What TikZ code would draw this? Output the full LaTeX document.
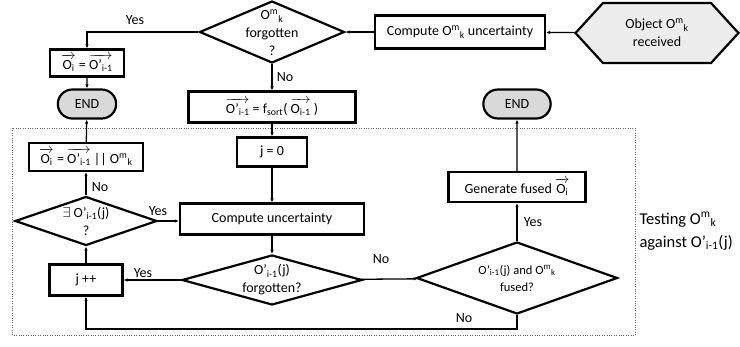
\documentclass[tikz,border=0pt]{standalone}
\usepackage{fontspec}
\setmainfont{Carlito}
\usetikzlibrary{shapes.geometric,shapes.symbols,shapes.misc,arrows.meta}
\newcommand{\Omk}{O\textsuperscript{m}\textsubscript{k}}
\newcommand{\vO}[1]{$\overrightarrow{\mbox{\rule{0pt}{0.8em}#1}}$}

\begin{document}
\begin{tikzpicture}[x=1pt,y=-1pt,
        font=\fontsize{14}{18}\selectfont,
        box/.style={rectangle, draw, line width=2.2pt, fill=white, inner sep=2pt},
        decision/.style={diamond, draw, line width=2.2pt, fill=white, inner sep=0pt},
        endnode/.style={rounded rectangle, draw, line width=2.2pt, fill=gray!30, minimum width=65, minimum height=29},
        dtext/.style={align=center, inner sep=0pt},
        flow/.style={line width=1.3pt, -{Latex[length=4pt,width=3.5pt]}},
        ]
                \useasboundingbox (0,0) rectangle (740,346);
                \draw[dotted, gray!80!black, thin] (12,128) rectangle (635,335);

                \node[signal, signal to=west and east, signal pointer angle=95, draw, line width=2.2pt,
                      fill=gray!15, minimum width=163, minimum height=60, align=center]
                      at (657,33) (obj) {Object \Omk\\received};
                \node[box, minimum width=170, minimum height=33] at (460,32) (unc1) {Compute \Omk{} uncertainty};
                \node[decision, minimum width=145, minimum height=62] at (272,32) (forg1) {};
                \node[dtext] at (272,33) (forg1txt) {\Omk\\forgotten\\?};
                \node[box, minimum width=74, minimum height=27] at (87,63) (assign1) {\vO{O\textsubscript{i}} = \vO{O'\textsubscript{i-1}}};
                \node[endnode] at (87,104) (end1) {END};
                \node[box, minimum width=167, minimum height=31] at (272,107) (sort) {\vO{O'\textsubscript{i-1}} = f\textsubscript{sort}( \vO{O\textsubscript{i-1}} )};
                \node[box, minimum width=70, minimum height=29] at (272,152) (j0) {j = 0};
                \node[box, minimum width=184, minimum height=31] at (272,219) (unc2) {Compute uncertainty};
                \node[decision, minimum width=142, minimum height=49] at (86,221) (exist) {};
                \node[dtext] at (86,221) (existtxt) {$\exists$ O'\textsubscript{i-1}(j)\\?};
                \node[box, minimum width=114, minimum height=28] at (86,157) (concat) {\vO{O\textsubscript{i}} = \vO{O'\textsubscript{i-1}} {|}{|} \Omk};
                \node[decision, minimum width=180, minimum height=50] at (272,280) (forg2) {};
                \node[dtext] at (272,280) (forg2txt) {O'\textsubscript{i-1}(j)\\forgotten?};
                \node[box, minimum width=73, minimum height=31] at (86,280) (jpp) {j ++};
                \node[decision, minimum width=201, minimum height=72] at (517,278) (fused) {};
                \node[dtext, font=\fontsize{12.5}{17}\selectfont] at (517,278) (fusedtxt) {O'\textsubscript{i-1}(j) and \Omk\\fused?};
                \node[box, minimum width=137, minimum height=30] at (517,187) (gen) {Generate fused \vO{O\textsubscript{i}}};
                \node[endnode, minimum width=74] at (517,104) (end2) {END};
                \node[align=left, anchor=west, font=\fontsize{16.5}{23}\selectfont] at (636,231) (testing) {Testing \Omk\\against O'\textsubscript{i-1}(j)};

                \node at (135,20) (yes1) {Yes};
                \node at (285,77) (no1) {No};
                \node at (100,187) (no2) {No};
                \node at (158,211) (yes2) {Yes};
                \node at (143,273) (yes3) {Yes};
                \node at (381,259) (no3) {No};
                \node at (533,222) (yes4) {Yes};
                \node at (464,318) (no4) {No};

                \draw[flow] (obj) -- (unc1);
                \draw[flow] (unc1) -- (forg1);
                \draw[flow] (forg1.west) -| (assign1.north);
                \draw[flow] (assign1) -- (end1);
                \draw[flow] (forg1) -- (sort);
                \draw[flow] (sort) -- (j0);
                \draw[flow] (j0) -- (unc2);
                \draw[flow] (exist.east) -- (exist.east -| unc2.west);
                \draw[flow] (exist) -- (concat);
                \draw[flow] (concat) -- (end1);
                \draw[flow] (unc2) -- (forg2);
                \draw[flow] (forg2) -- (jpp);
                \draw[flow] (jpp) -- (exist);
                \draw[flow] (forg2) -- (fused);
                \draw[flow] (fused.south) -- (fused.south |- 0,329) -| (jpp.south);
                \draw[flow] (fused) -- (gen);
                \draw[flow] (gen) -- (end2);
            \end{tikzpicture}
\end{document}
